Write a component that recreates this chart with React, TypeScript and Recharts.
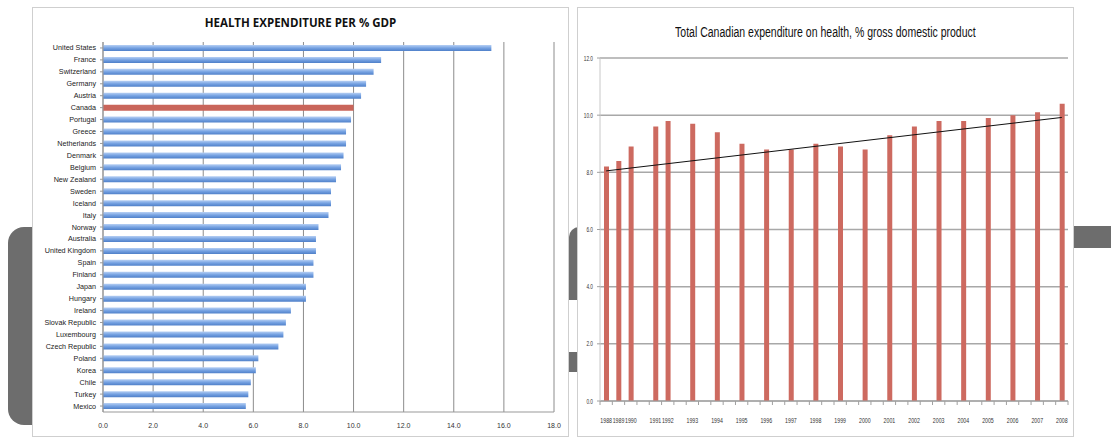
import React from 'react';
import {
  BarChart,
  Bar,
  Cell,
  XAxis,
  YAxis,
  CartesianGrid,
  ComposedChart,
  Line,
} from 'recharts';

// OECD health expenditure, % of GDP
const countries = [
  'United States', 'France', 'Switzerland', 'Germany', 'Austria', 'Canada', 'Portugal',
  'Greece', 'Netherlands', 'Denmark', 'Belgium', 'New Zealand', 'Sweden', 'Iceland',
  'Italy', 'Norway', 'Australia', 'United Kingdom', 'Spain', 'Finland', 'Japan',
  'Hungary', 'Ireland', 'Slovak Republic', 'Luxembourg', 'Czech Republic', 'Poland',
  'Korea', 'Chile', 'Turkey', 'Mexico',
];
const countryValues = [
  15.5, 11.1, 10.8, 10.5, 10.3, 10.0, 9.9, 9.7, 9.7, 9.6, 9.5, 9.3, 9.1, 9.1, 9.0,
  8.6, 8.5, 8.5, 8.4, 8.4, 8.1, 8.1, 7.5, 7.3, 7.2, 7.0, 6.2, 6.1, 5.9, 5.8, 5.7,
];
const gdpTicks = [0, 2, 4, 6, 8, 10, 12, 14, 16, 18];

// Canada over time; '' = empty category slot on the axis
const years = [
  '1988', '1989', '1990', '', '1991', '1992', '', '1993', '', '1994', '', '1995', '',
  '1996', '', '1997', '', '1998', '', '1999', '', '2000', '', '2001', '', '2002', '',
  '2003', '', '2004', '', '2005', '', '2006', '', '2007', '', '2008',
];
const canadaValues = [
  8.2, 8.4, 8.9, null, 9.6, 9.8, null, 9.7, null, 9.4, null, 9.0, null, 8.8, null,
  8.8, null, 9.0, null, 8.9, null, 8.8, null, 9.3, null, 9.6, null, 9.8, null, 9.8,
  null, 9.9, null, 10.0, null, 10.1, null, 10.4,
];
const trendStart = 8.05;
const trendEnd = 9.92;
const canadaTicks = [0, 2, 4, 6, 8, 10, 12];

const countryData = countries.map((name, i) => ({ name, value: countryValues[i] }));
const canadaData = years.map((label, i) => ({
  i,
  label,
  value: canadaValues[i],
  trend: i === 0 ? trendStart : i === years.length - 1 ? trendEnd : null,
}));

const sans = '"Liberation Sans", Arial, sans-serif';

const CountryTick = (props: any) => {
  const { x, y, payload } = props;
  return (
    <text x={x - 2} y={y + 2.5} textAnchor="end" fontSize={7.2} fill="#222" fontFamily={sans}>
      {payload.value}
    </text>
  );
};

const GdpTick = (props: any) => {
  const { x, y, payload } = props;
  return (
    <text x={x} y={y + 15.5} textAnchor="middle" fontSize={7} fill="#333" fontFamily={sans}>
      {Number(payload.value).toFixed(1)}
    </text>
  );
};

// narrow (Calibri-like) labels: squeeze horizontally
const YearTick = (props: any) => {
  const { x, y, index, payload } = props;
  const off = payload?.offset ?? 6;
  const isLast = index === years.length - 1;
  const label = years[index];
  return (
    <g>
      <line x1={x - off} y1={y} x2={x - off} y2={y + 4} stroke="#a0a0a0" />
      {isLast && <line x1={x + off} y1={y} x2={x + off} y2={y + 4} stroke="#a0a0a0" />}
      {label && (
        <text
          transform={`translate(${x},${y + 21.5}) scale(0.75,1)`}
          textAnchor="middle"
          fontSize={7}
          fill="#333"
          fontFamily={sans}
        >
          {label}
        </text>
      )}
    </g>
  );
};

const PctTick = (props: any) => {
  const { x, y, payload } = props;
  return (
    <text
      transform={`translate(${x - 2},${y + 2.5}) scale(0.68,1)`}
      textAnchor="end"
      fontSize={7}
      fill="#333"
      fontFamily={sans}
    >
      {Number(payload.value).toFixed(1)}
    </text>
  );
};

export default function App() {
  return (
    <div
      style={{
        position: 'absolute',
        left: 0,
        top: 0,
        width: 1111,
        height: 437,
        background: '#fff',
        overflow: 'hidden',
        fontFamily: sans,
      }}
    >
      {/* background slide shapes */}
      <div style={{ position: 'absolute', left: 8, top: 227, width: 60, height: 198, background: '#6d6d6d', borderRadius: 16 }} />
      <div style={{ position: 'absolute', left: 569, top: 227, width: 30, height: 73, background: '#6d6d6d', borderRadius: '10px 0 0 0' }} />
      <div style={{ position: 'absolute', left: 569, top: 352, width: 20, height: 20, background: '#6d6d6d' }} />
      <div style={{ position: 'absolute', left: 1074, top: 226, width: 40, height: 22, background: '#6d6d6d' }} />

      {/* left chart */}
      <div
        style={{
          position: 'absolute',
          left: 32,
          top: 7,
          width: 537,
          height: 430,
          background: '#fff',
          border: '1px solid #cfcfcf',
          boxSizing: 'border-box',
        }}
      >
        <div
          style={{
            position: 'absolute',
            left: 0,
            right: 0,
            top: 7,
            textAlign: 'center',
            fontWeight: 700,
            fontSize: 11.5,
            color: '#111',
            fontFamily: '"Open Sans", sans-serif',
          }}
        >
          HEALTH EXPENDITURE PER % GDP
        </div>
        <BarChart
          width={535}
          height={428}
          layout="vertical"
          data={countryData}
          margin={{ top: 34, right: 14, left: 0, bottom: 4 }}
          barCategoryGap={0}
        >
          <defs>
            <linearGradient id="blueBar" x1="0" y1="0" x2="0" y2="1">
              <stop offset="0%" stopColor="#b7d0f4" />
              <stop offset="50%" stopColor="#76a2e2" />
              <stop offset="100%" stopColor="#4f80c9" />
            </linearGradient>
          </defs>
          <CartesianGrid horizontal={false} stroke="#8c8c8c" />
          <XAxis
            type="number"
            domain={[0, 18]}
            ticks={gdpTicks}
            tick={<GdpTick />}
            tickLine={false}
            tickSize={0}
            tickMargin={0}
            axisLine={{ stroke: '#999' }}
            height={20}
          />
          <YAxis
            type="category"
            dataKey="name"
            width={70}
            interval={0}
            tick={<CountryTick />}
            tickSize={3}
            tickLine={{ stroke: '#999' }}
            axisLine={{ stroke: '#999' }}
          />
          <Bar dataKey="value" barSize={6} isAnimationActive={false}>
            {countryData.map((d) => (
              <Cell key={d.name} fill={d.name === 'Canada' ? '#c9655a' : 'url(#blueBar)'} />
            ))}
          </Bar>
        </BarChart>
      </div>

      {/* right chart */}
      <div
        style={{
          position: 'absolute',
          left: 577,
          top: 7,
          width: 497,
          height: 430,
          background: '#fff',
          border: '1px solid #cfcfcf',
          boxSizing: 'border-box',
        }}
      >
        <div
          style={{
            position: 'absolute',
            left: 0,
            right: 0,
            top: 15,
            textAlign: 'center',
            whiteSpace: 'nowrap',
          }}
        >
          <span
            style={{
              display: 'inline-block',
              fontSize: 14,
              color: '#111',
              fontFamily: sans,
              transform: 'scaleX(0.75)',
              transformOrigin: 'center',
            }}
          >
            Total Canadian expenditure on health, % gross domestic product
          </span>
        </div>
        <ComposedChart
          width={495}
          height={428}
          data={canadaData}
          margin={{ top: 50, right: 5, left: 0, bottom: 15 }}
          barCategoryGap={0}
        >
          <CartesianGrid vertical={false} stroke="#a8a8a8" strokeWidth={1.5} />
          <XAxis
            dataKey="i"
            interval={0}
            tick={<YearTick />}
            tickLine={false}
            tickSize={0}
            tickMargin={0}
            axisLine={{ stroke: '#a0a0a0' }}
            height={20}
          />
          <YAxis
            type="number"
            domain={[0, 12]}
            ticks={canadaTicks}
            tick={<PctTick />}
            tickSize={3}
            tickLine={{ stroke: '#a0a0a0' }}
            axisLine={{ stroke: '#c8c8c8' }}
            width={22}
          />
          <Bar dataKey="value" barSize={5} fill="#cd6a60" isAnimationActive={false} />
          <Line
            dataKey="trend"
            type="linear"
            stroke="#111"
            strokeWidth={1}
            dot={false}
            connectNulls
            isAnimationActive={false}
          />
        </ComposedChart>
      </div>
    </div>
  );
}
